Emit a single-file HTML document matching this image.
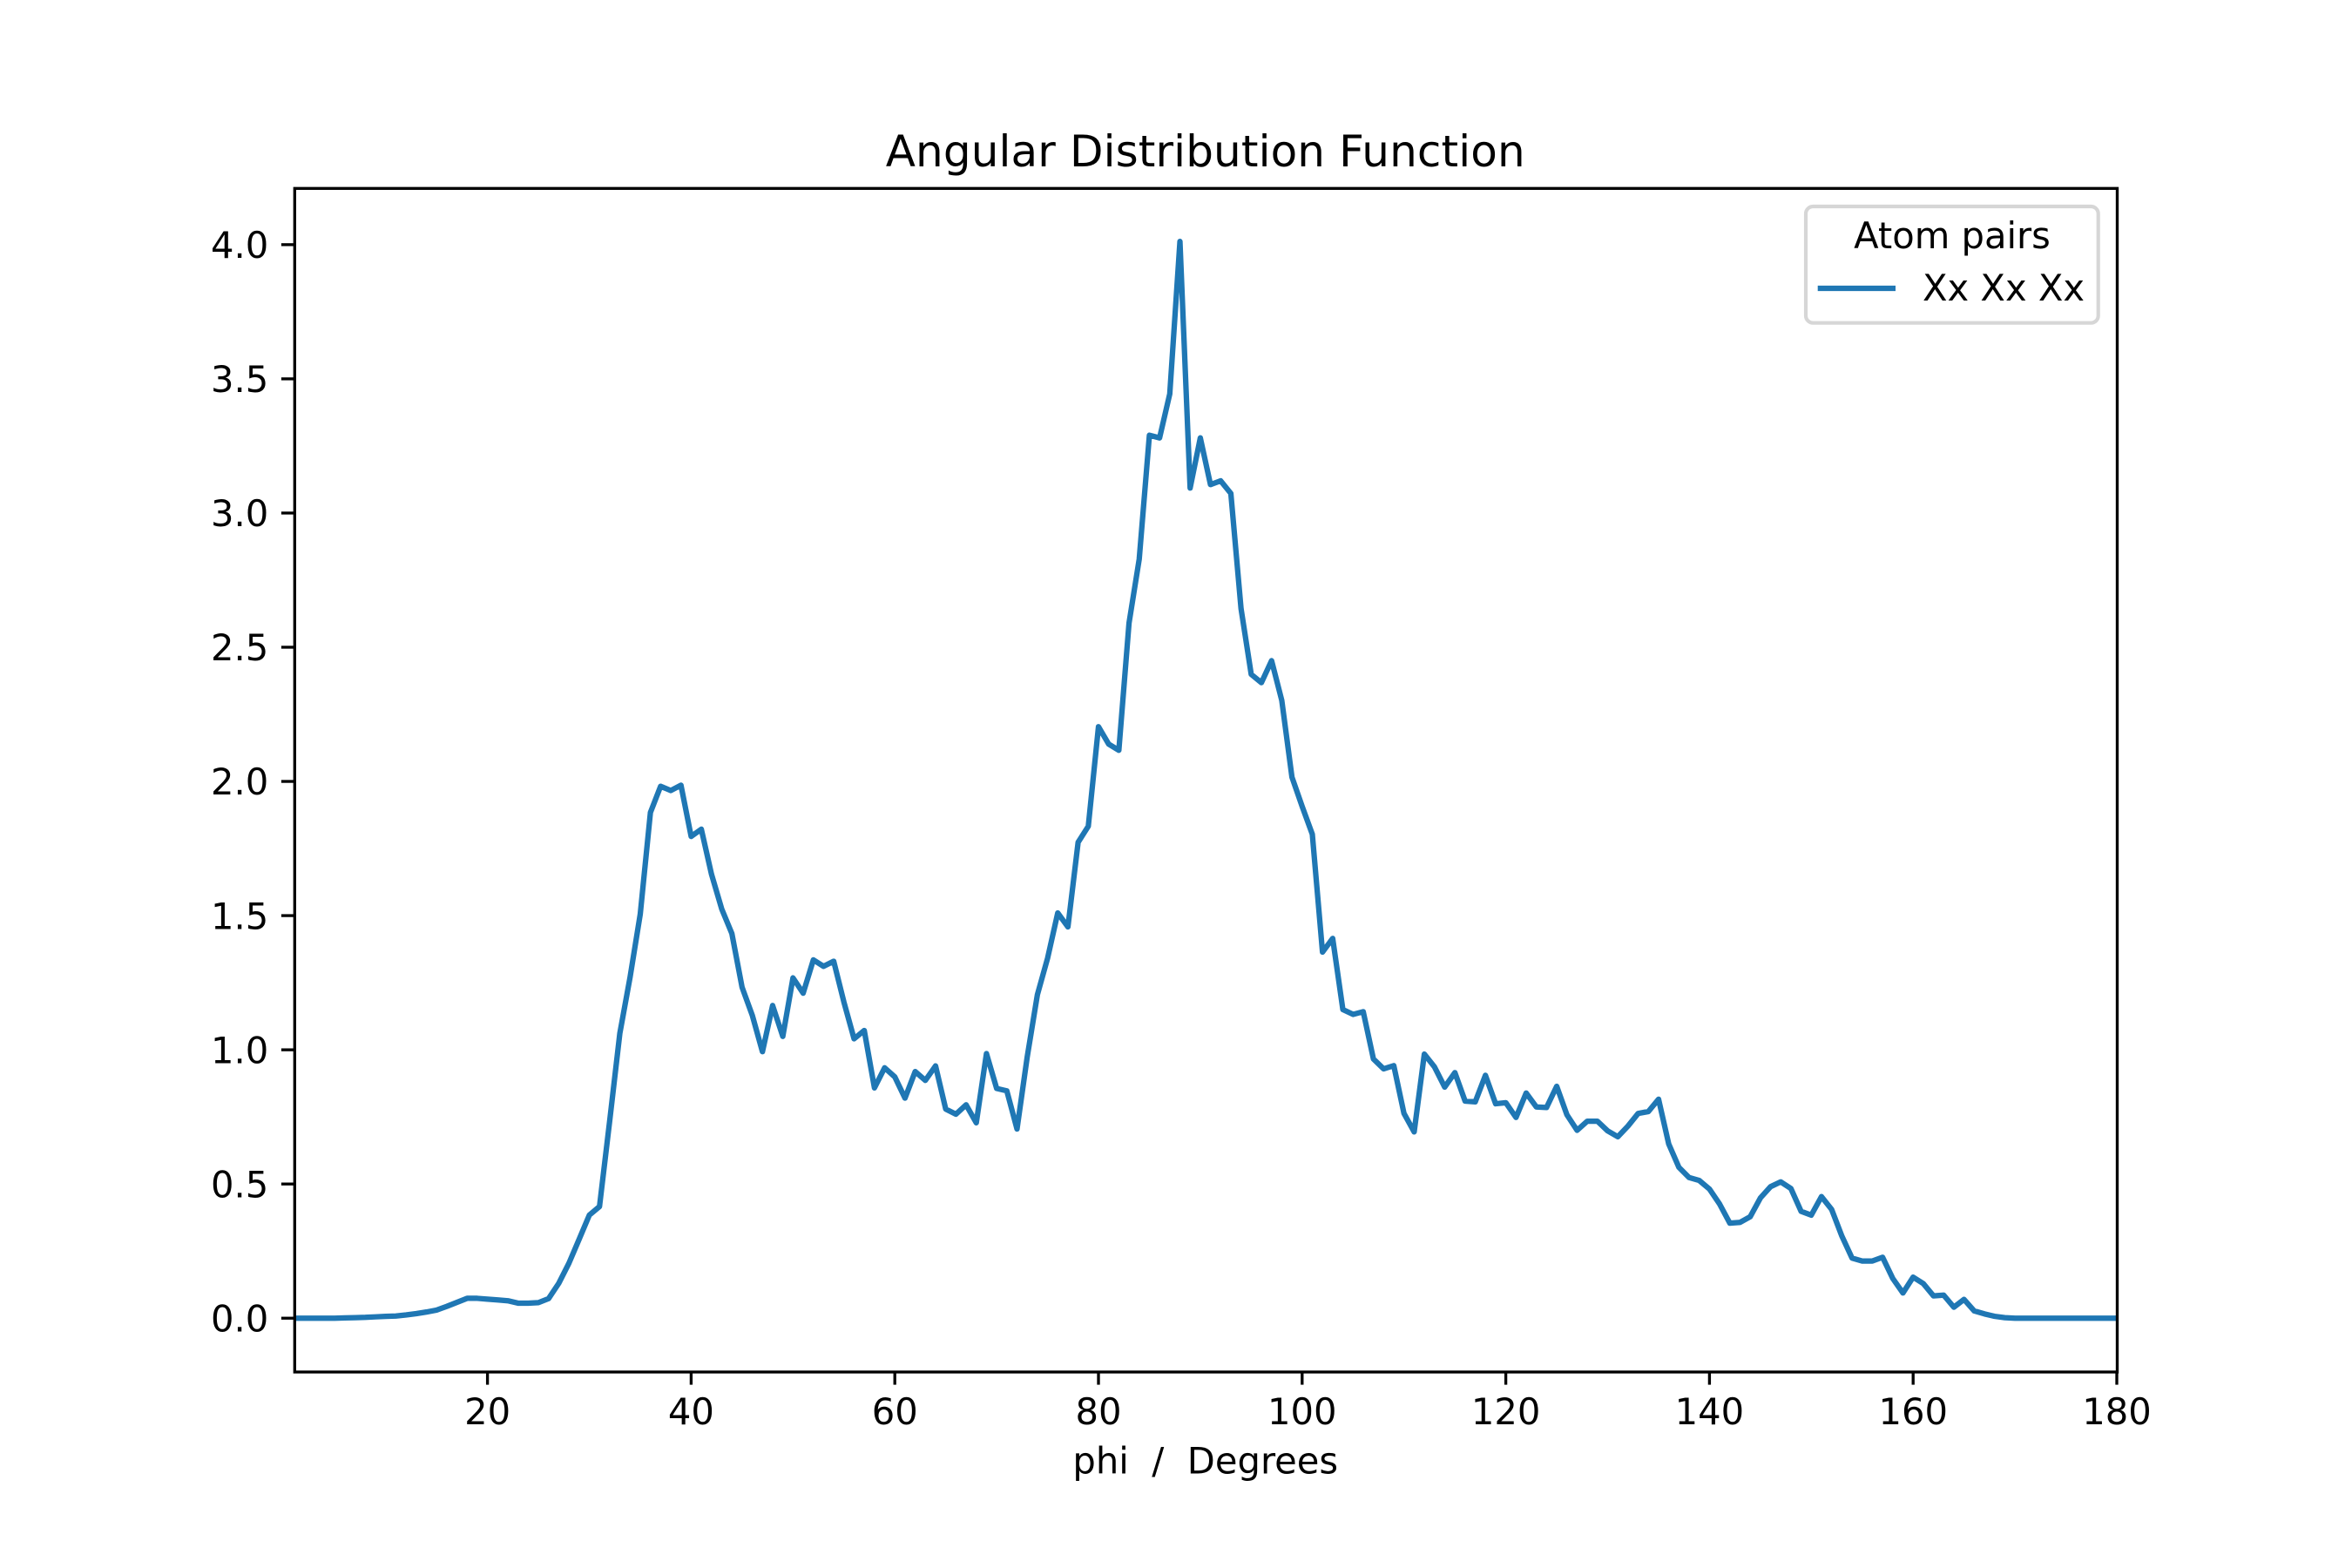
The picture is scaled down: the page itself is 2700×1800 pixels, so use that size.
<!DOCTYPE html>
<html lang="en">
<head>
<meta charset="utf-8">
<title>Angular Distribution Function</title>
<style>
html,body{margin:0;padding:0;background:#fff;width:2700px;height:1800px;overflow:hidden}
svg{display:block}
text{font-family:"DejaVu Sans",sans-serif;fill:#000}
</style>
</head>
<body>
<svg id="chart" xmlns="http://www.w3.org/2000/svg" width="2700" height="1800" viewBox="0 0 2700 1800">
  <rect x="0" y="0" width="2700" height="1800" fill="#fff"/>
  <defs><clipPath id="plot-clip"><rect x="337.5" y="216" width="2092.5" height="1359"/></clipPath></defs>
  <g id="series-layer" clip-path="url(#plot-clip)"></g>
  <g id="tick-layer"></g>
  <rect x="338.3" y="216.3" width="2092.2" height="1358.7" fill="none" stroke="#000" stroke-width="3.33"/>
  <text x="1383.75" y="191" font-size="50" letter-spacing="0.12" text-anchor="middle">Angular Distribution Function</text>
  <text x="1383.75" y="1691.7" font-size="41.67" text-anchor="middle" xml:space="preserve" style="white-space:pre">phi  /  Degrees</text>
  <g>
    <rect x="2073" y="237" width="335.7" height="133.7" rx="8.3" ry="8.3" fill="#fff" fill-opacity="0.8" stroke="#d6d6d6" stroke-width="4.17"/>
    <text x="2241" y="285" font-size="41.67" text-anchor="middle">Atom pairs</text>
    <line x1="2086.7" y1="331" x2="2176" y2="331" stroke="#1f77b4" stroke-width="6.25"/>
    <text x="2207" y="345" font-size="41.67">Xx Xx Xx</text>
  </g>
</svg>
<script>
const angleStart = 1;
const adfValues = [
  0,0,0,0,0,.001,.002,.003,.005,.007,
  .008,.012,.017,.023,.030,.044,.059,.074,.074,.071,
  .068,.065,.056,.056,.058,.073,.130,.205,.294,.384,
  .416,.735,1.062,1.27,1.505,1.884,1.982,1.966,1.986,1.795,
  1.822,1.654,1.525,1.433,1.233,1.129,.993,1.165,1.050,1.268,
  1.211,1.335,1.311,1.330,1.178,1.041,1.072,.858,.933,.899,
  .820,.919,.886,.940,.779,.760,.795,.728,.986,.856,
  .847,.705,.973,1.205,1.341,1.510,1.458,1.773,1.833,2.204,
  2.139,2.116,2.590,2.828,3.290,3.280,3.444,4.012,3.093,3.280,
  3.106,3.120,3.073,2.644,2.399,2.368,2.450,2.302,2.016,1.907,
  1.803,1.364,1.415,1.150,1.132,1.142,.966,.929,.941,.763,
  .694,.984,.936,.861,.915,.809,.806,.905,.799,.803,
  .748,.839,.787,.785,.864,.758,.700,.734,.734,.698,
  .676,.716,.763,.770,.816,.649,.562,.524,.513,.481,
  .425,.354,.357,.378,.448,.490,.508,.483,.398,.384,
  .453,.405,.306,.224,.213,.213,.227,.148,.094,.153,
  .129,.083,.086,.041,.070,.027,.016,.007,.002,0,
  0,0,0,0,0,0,0,0,0,0
];
const xTickValues = [20,40,60,80,100,120,140,160,180];
const yTickValues = [0,0.5,1,1.5,2,2.5,3,3.5,4];
const xTickLabels = ["20","40","60","80","100","120","140","160","180"];
const yTickLabels = ["0.0","0.5","1.0","1.5","2.0","2.5","3.0","3.5","4.0"];

const NS = "http://www.w3.org/2000/svg";
const plot = {left:337.5,right:2430,top:216,bottom:1575};
const xDomain = [1,180];
const yDomain = [-0.2005,4.2105];
function xScale(v){return plot.left+(v-xDomain[0])/(xDomain[1]-xDomain[0])*(plot.right-plot.left);}
function yScale(v){return plot.bottom-(v-yDomain[0])/(yDomain[1]-yDomain[0])*(plot.bottom-plot.top);}

const seriesLayer = document.getElementById("series-layer");
const tickLayer = document.getElementById("tick-layer");

const pts = adfValues.map(function(v,i){return xScale(angleStart+i).toFixed(2)+","+yScale(v).toFixed(2);}).join(" ");
const line = document.createElementNS(NS,"polyline");


line.setAttribute("points",pts);
line.setAttribute("fill","none");
line.setAttribute("stroke","#1f77b4");
line.setAttribute("stroke-width","6.25");
line.setAttribute("stroke-linejoin","round");
line.setAttribute("stroke-linecap","square");
seriesLayer.appendChild(line);

xTickValues.forEach(function(v,i){
  const x = xScale(v);
  const t = document.createElementNS(NS,"line");
  
  
  t.setAttribute("x1",x);t.setAttribute("x2",x);
  t.setAttribute("y1",plot.bottom);t.setAttribute("y2",plot.bottom+14.6);
  t.setAttribute("stroke","#000");t.setAttribute("stroke-width","3.33");
  tickLayer.appendChild(t);
  const l = document.createElementNS(NS,"text");
  
  
  l.setAttribute("x",x);l.setAttribute("y",1635);
  l.setAttribute("font-size","41.67");l.setAttribute("text-anchor","middle");
  l.textContent = xTickLabels[i];
  tickLayer.appendChild(l);
});
yTickValues.forEach(function(v,i){
  const y = yScale(v);
  const t = document.createElementNS(NS,"line");
  
  
  t.setAttribute("x1",plot.left-14.6);t.setAttribute("x2",plot.left);
  t.setAttribute("y1",y);t.setAttribute("y2",y);
  t.setAttribute("stroke","#000");t.setAttribute("stroke-width","3.33");
  tickLayer.appendChild(t);
  const l = document.createElementNS(NS,"text");
  
  
  l.setAttribute("x",plot.left-29.2);l.setAttribute("y",y+15.2);
  l.setAttribute("font-size","41.67");l.setAttribute("text-anchor","end");
  l.textContent = yTickLabels[i];
  tickLayer.appendChild(l);
});
</script>
</body>
</html>
